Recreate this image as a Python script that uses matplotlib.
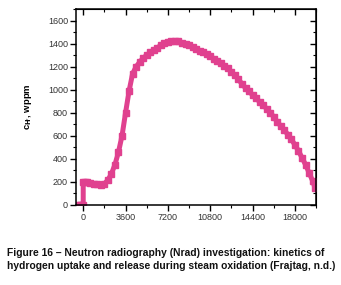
import matplotlib
matplotlib.use("Agg")
import matplotlib.pyplot as plt
from matplotlib.ticker import MultipleLocator

# time (s) and hydrogen concentration (wppm)
time_s = [-450, -300, -150, 0, 0, 150, 300, 600, 900, 1200, 1500, 1800,
          2100, 2400, 2700, 3000, 3300, 3600, 3900, 4200, 4500, 4800, 5100,
          5400, 5700, 6000, 6300, 6600, 6900, 7200, 7500, 7800, 8100, 8400,
          8700, 9000, 9300, 9600, 9900, 10200, 10500, 10800, 11100, 11400,
          11700, 12000, 12300, 12600, 12900, 13200, 13500, 13800, 14100,
          14400, 14700, 15000, 15300, 15600, 15900, 16200, 16500, 16800,
          17100, 17400, 17700, 18000, 18300, 18600, 18900, 19200, 19500,
          19700]
c_h = [0, 0, 0, 0, 200, 200, 195, 190, 185, 180, 175, 185,
       215, 270, 350, 460, 600, 800, 990, 1140, 1200, 1240, 1275,
       1300, 1325, 1345, 1365, 1385, 1405, 1415, 1425, 1425, 1420, 1410,
       1400, 1385, 1370, 1355, 1340, 1325, 1310, 1295, 1270, 1250,
       1230, 1210, 1185, 1155, 1125, 1090, 1050, 1015, 985,
       955, 925, 895, 865, 835, 800, 765, 720, 685,
       650, 610, 570, 520, 470, 410, 350, 280, 210,
       150]

x_ticks = [0, 3600, 7200, 10800, 14400, 18000]
y_ticks = [0, 200, 400, 600, 800, 1000, 1200, 1400, 1600]

caption = ("Figure 16 \u2013 Neutron radiography (Nrad) investigation: kinetics of\n"
           "hydrogen uptake and release during steam oxidation (Frajtag, n.d.)")

plt.rcParams["font.family"] = ["Liberation Sans", "DejaVu Sans"]

fig = plt.figure(figsize=(3.41, 2.85), dpi=100)
ax = fig.add_axes([0.224, 0.281, 0.703, 0.687])

pink = "#e0418f"
ax.plot(time_s, c_h, color=pink, lw=3.6, marker="s", ms=4.2, mec=pink, mfc=pink,
        solid_capstyle="butt")

ax.set_xlim(-580, 19800)
ax.set_ylim(0, 1700)
ax.set_xticks(x_ticks)
ax.set_yticks(y_ticks)
ax.xaxis.set_minor_locator(MultipleLocator(1800))
ax.yaxis.set_minor_locator(MultipleLocator(100))
ax.tick_params(which="major", direction="out", length=4, width=1, labelsize=6.5,
               labelcolor="#333333", pad=2)
ax.tick_params(which="minor", direction="out", length=2, width=0.8)
for s in ax.spines.values():
    s.set_linewidth(1.1)

top = ax.secondary_xaxis("top")
top.set_xticks(x_ticks)
top.xaxis.set_minor_locator(MultipleLocator(1800))
top.tick_params(which="major", direction="in", length=4, width=1, labeltop=False)
top.tick_params(which="minor", direction="in", length=2, width=0.8)
right = ax.secondary_yaxis("right")
right.set_yticks(y_ticks)
right.yaxis.set_minor_locator(MultipleLocator(100))
right.tick_params(which="major", direction="in", length=4, width=1, labelright=False)
right.tick_params(which="minor", direction="in", length=2, width=0.8)

ax.set_ylabel(r"c$_{\bf H'}$, wppm", fontsize=6.8, fontweight="bold", labelpad=10)

fig.text(0.02, 0.09, caption, fontsize=7.4, fontweight="bold",
         family=["Liberation Sans Narrow", "Liberation Sans"], va="center",
         linespacing=1.3, color="#111111")

fig.savefig("out.png", dpi=100)
